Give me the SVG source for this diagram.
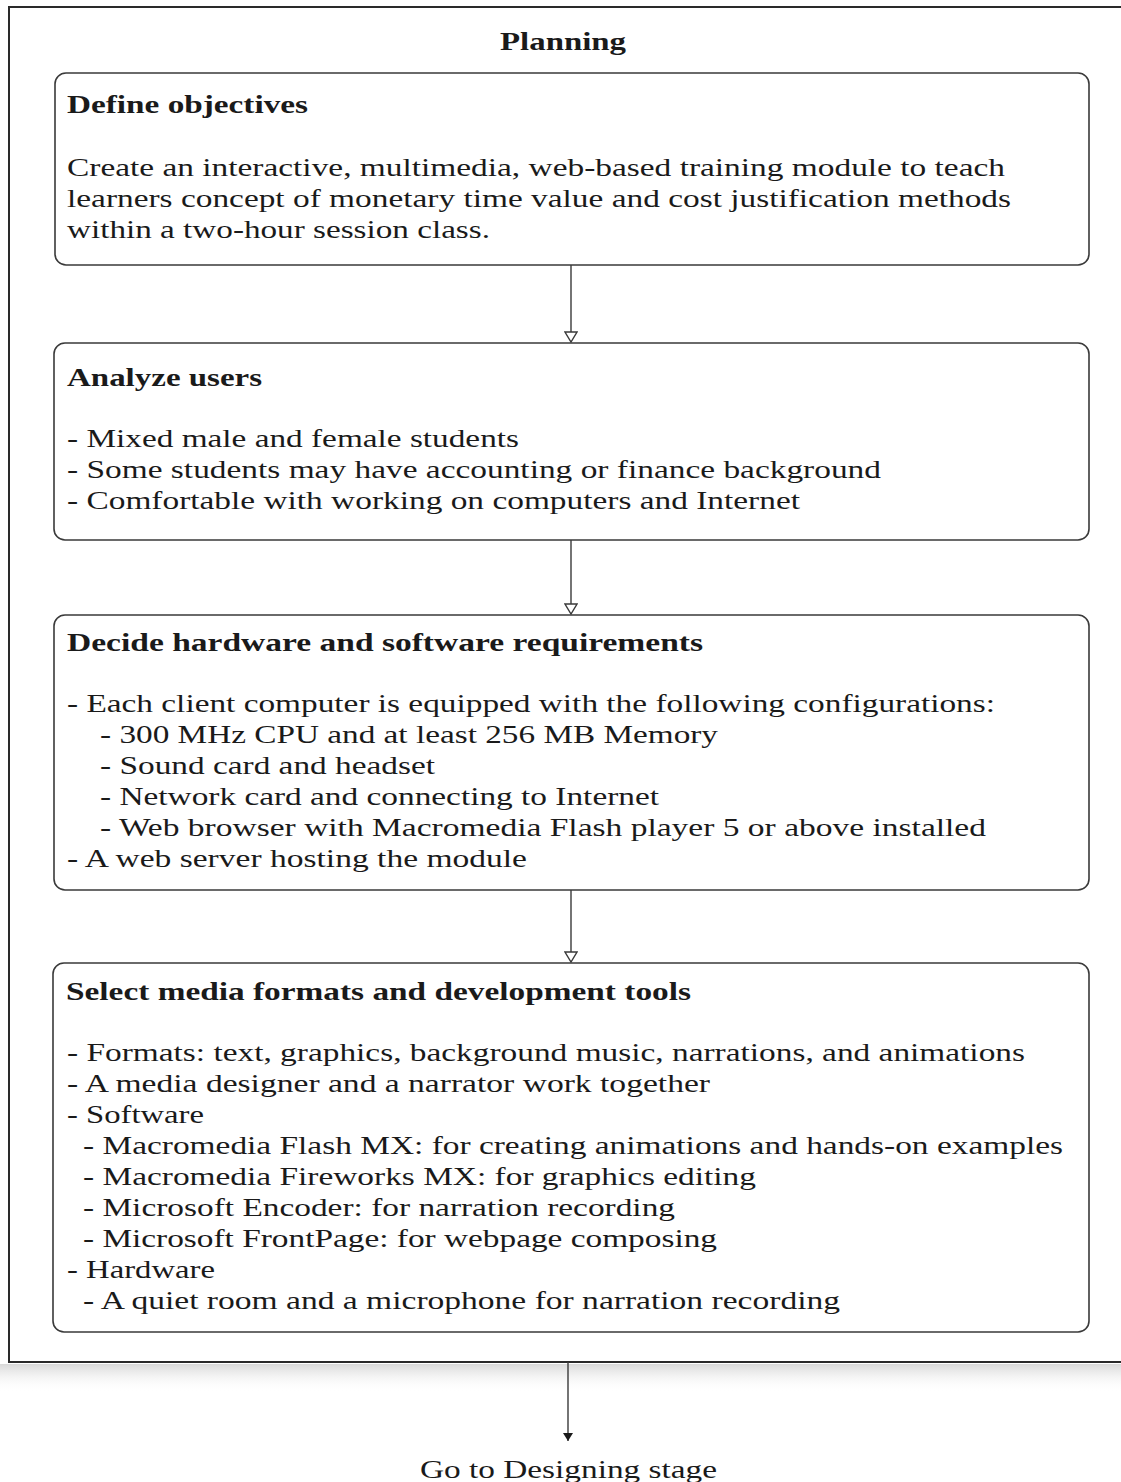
<svg xmlns="http://www.w3.org/2000/svg" width="1121" height="1482" viewBox="0 0 1121 1482">
<style>
.frame{fill:none;stroke:#2a2a2a;stroke-width:2}
.box{fill:#fff;stroke:#3a3a3a;stroke-width:1.6}
.t{font-family:"Liberation Serif","Times New Roman",serif;font-size:26px;fill:#1a1a1a}
.h{font-family:"Liberation Serif","Times New Roman",serif;font-size:25px;font-weight:bold;fill:#1a1a1a}
.conn{stroke:#3a3a3a;stroke-width:1.4;fill:none}
</style>
<defs>
<marker id="open" viewBox="0 0 14 12" refX="7" refY="11" markerWidth="14" markerHeight="12" markerUnits="userSpaceOnUse" orient="0">
<path d="M1,1 L13,1 L7,11 Z" fill="#fff" stroke="#3a3a3a" stroke-width="1.4"/>
</marker>
<marker id="solid" viewBox="0 0 10 10" refX="5" refY="9" markerWidth="10" markerHeight="10" markerUnits="userSpaceOnUse" orient="0">
<path d="M0,1 L10,1 L5,9 Z" fill="#1a1a1a"/>
</marker>
<linearGradient id="shadow" x1="0" y1="0" x2="0" y2="1">
<stop offset="0" stop-color="#c8c8c8" stop-opacity="0.7"/>
<stop offset="1" stop-color="#ffffff" stop-opacity="0"/>
</linearGradient>
</defs>
<rect width="1121" height="1482" fill="#fff"/>
<g id="frame">
<rect x="0" y="1364" width="1121" height="28" fill="url(#shadow)"/>
<path class="frame" d="M1121,7 L9,7 L9,1362 L1121,1362"/>
<text class="h" x="563" y="50" text-anchor="middle" textLength="126" lengthAdjust="spacingAndGlyphs">Planning</text>
</g>
<g id="connectors">
<line class="conn" x1="571" y1="265" x2="571" y2="342" marker-end="url(#open)"/>
<line class="conn" x1="571" y1="540" x2="571" y2="614" marker-end="url(#open)"/>
<line class="conn" x1="571" y1="890" x2="571" y2="962" marker-end="url(#open)"/>
<line class="conn" x1="568" y1="1362" x2="568" y2="1441" marker-end="url(#solid)"/>
</g>
<g id="define">
<rect class="box" x="55" y="73" width="1034" height="192" rx="11"/>
<text class="h" x="67" y="113" textLength="241" lengthAdjust="spacingAndGlyphs">Define objectives</text>
<text class="t" x="67" y="176" textLength="938" lengthAdjust="spacingAndGlyphs">Create an interactive, multimedia, web-based training module to teach</text>
<text class="t" x="67" y="207" textLength="944" lengthAdjust="spacingAndGlyphs">learners concept of monetary time value and cost justification methods</text>
<text class="t" x="67" y="238" textLength="423" lengthAdjust="spacingAndGlyphs">within a two-hour session class.</text>
</g>
<g id="analyze">
<rect class="box" x="54" y="343" width="1035" height="197" rx="11"/>
<text class="h" x="67" y="386" textLength="195" lengthAdjust="spacingAndGlyphs">Analyze users</text>
<text class="t" x="67" y="447" textLength="452" lengthAdjust="spacingAndGlyphs">- Mixed male and female students</text>
<text class="t" x="67" y="478" textLength="814" lengthAdjust="spacingAndGlyphs">- Some students may have accounting or finance background</text>
<text class="t" x="67" y="509" textLength="733" lengthAdjust="spacingAndGlyphs">- Comfortable with working on computers and Internet</text>
</g>
<g id="decide">
<rect class="box" x="54" y="615" width="1035" height="275" rx="11"/>
<text class="h" x="67" y="651" textLength="636" lengthAdjust="spacingAndGlyphs">Decide hardware and software requirements</text>
<text class="t" x="67" y="712" textLength="928" lengthAdjust="spacingAndGlyphs">- Each client computer is equipped with the following configurations:</text>
<text class="t" x="100" y="743" textLength="618" lengthAdjust="spacingAndGlyphs">- 300 MHz CPU and at least 256 MB Memory</text>
<text class="t" x="100" y="774" textLength="335" lengthAdjust="spacingAndGlyphs">- Sound card and headset</text>
<text class="t" x="100" y="805" textLength="559" lengthAdjust="spacingAndGlyphs">- Network card and connecting to Internet</text>
<text class="t" x="100" y="836" textLength="886" lengthAdjust="spacingAndGlyphs">- Web browser with Macromedia Flash player 5 or above installed</text>
<text class="t" x="67" y="867" textLength="460" lengthAdjust="spacingAndGlyphs">- A web server hosting the module</text>
</g>
<g id="select">
<rect class="box" x="53" y="963" width="1036" height="369" rx="11"/>
<text class="h" x="66" y="1000" textLength="625" lengthAdjust="spacingAndGlyphs">Select media formats and development tools</text>
<text class="t" x="67" y="1061" textLength="958" lengthAdjust="spacingAndGlyphs">- Formats: text, graphics, background music, narrations, and animations</text>
<text class="t" x="67" y="1092" textLength="643" lengthAdjust="spacingAndGlyphs">- A media designer and a narrator work together</text>
<text class="t" x="67" y="1123" textLength="137" lengthAdjust="spacingAndGlyphs">- Software</text>
<text class="t" x="83" y="1154" textLength="980" lengthAdjust="spacingAndGlyphs">- Macromedia Flash MX: for creating animations and hands-on examples</text>
<text class="t" x="83" y="1185" textLength="673" lengthAdjust="spacingAndGlyphs">- Macromedia Fireworks MX: for graphics editing</text>
<text class="t" x="83" y="1216" textLength="592" lengthAdjust="spacingAndGlyphs">- Microsoft Encoder: for narration recording</text>
<text class="t" x="83" y="1247" textLength="634" lengthAdjust="spacingAndGlyphs">- Microsoft FrontPage: for webpage composing</text>
<text class="t" x="67" y="1278" textLength="148" lengthAdjust="spacingAndGlyphs">- Hardware</text>
<text class="t" x="83" y="1309" textLength="757" lengthAdjust="spacingAndGlyphs">- A quiet room and a microphone for narration recording</text>
</g>
<g id="goto">
<text class="t" x="420" y="1478" textLength="297" lengthAdjust="spacingAndGlyphs">Go to Designing stage</text>
</g>
</svg>
